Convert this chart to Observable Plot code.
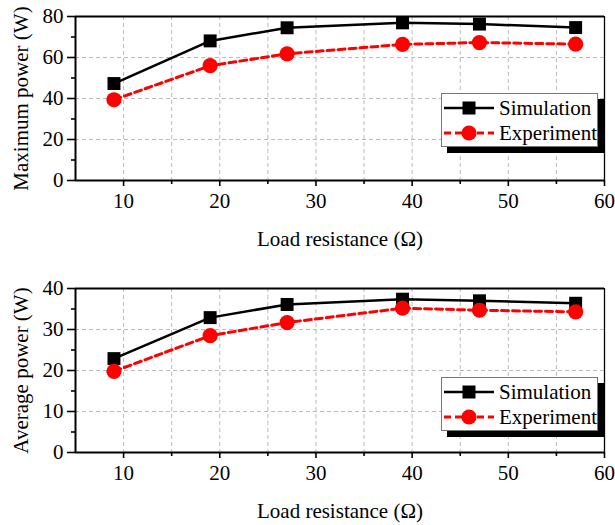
<!DOCTYPE html>
<html><head><meta charset="utf-8">
<script src="https://cdn.jsdelivr.net/npm/d3@7"></script>
<script src="https://cdn.jsdelivr.net/npm/@observablehq/plot@0.6"></script>
<style>
body{margin:0;background:#fff;}
#wrap{width:615px;font-family:"Liberation Serif","Times New Roman",serif;}
.panel{position:relative;width:615px;}
.legend{position:absolute;left:441px;width:155px;height:52px;background:#fff;border:1px solid #777;box-shadow:6px 6px 0 #000;font-size:21px;color:#000;}
.row{position:absolute;left:0;height:24px;display:flex;align-items:center;white-space:nowrap;}
.row svg{display:block;margin-left:2px;margin-right:5px;}
</style>
</head><body>
<div id="wrap"></div>
<script>
const resistance = [9, 19, 27, 39, 47, 57];
const maxSim = [47.3, 68.1, 74.5, 76.9, 76.3, 74.6];
const maxExp = [39.4, 56.0, 61.8, 66.4, 67.3, 66.5];
const avgSim = [22.9, 32.9, 36.1, 37.4, 37.0, 36.4];
const avgExp = [19.8, 28.5, 31.7, 35.2, 34.7, 34.3];
const seriesNames = ["Simulation", "Experiment"];

const xTicks = [10, 20, 30, 40, 50, 60];
const xMinor = [15, 25, 35, 45, 55];
const xGrid = [10, 15, 20, 25, 30, 35, 40, 45, 50, 55];
const maxTicks = [0, 20, 40, 60, 80];
const maxMinor = [10, 30, 50, 70];
const maxGrid = [20, 40, 60];
const avgTicks = [0, 10, 20, 30, 40];
const avgMinor = [5, 15, 25, 35];
const avgGrid = [10, 20, 30];

const FONT = "'Liberation Serif', 'Times New Roman', serif";

function panel(o) {
  const simData = resistance.map((x, i) => ({x, y: o.sim[i]}));
  const expData = resistance.map((x, i) => ({x, y: o.exp[i]}));
  const ytop = o.yTicks[o.yTicks.length - 1];
  const plot = Plot.plot({
    width: 615, height: o.height,
    marginLeft: 75, marginRight: 11, marginTop: o.marginTop, marginBottom: o.marginBottom,
    style: {fontFamily: FONT, fontSize: "21px", color: "#000", background: "transparent"},
    x: {domain: [5, 60]},
    y: {domain: [0, ytop]},
    marks: [
      Plot.gridX({ticks: xGrid, stroke: "#bbbbbb", strokeOpacity: 1, strokeDasharray: "4,3", strokeWidth: 1}),
      Plot.gridY({ticks: o.yGrid, stroke: "#bbbbbb", strokeOpacity: 1, strokeDasharray: "4,3", strokeWidth: 1}),
      Plot.line(simData, {x: "x", y: "y", stroke: "#000", strokeWidth: 2.5}),
      Plot.dot(simData, {x: "x", y: "y", symbol: "square", r: 7.3, fill: "#000", stroke: "none"}),
      Plot.line(expData, {x: "x", y: "y", stroke: "#ff0000", strokeWidth: 3, strokeDasharray: "7,4"}),
      Plot.dot(expData, {x: "x", y: "y", symbol: "circle", r: 7.6, fill: "#ff0000", stroke: "none"}),
      Plot.ruleY([ytop], {stroke: "#000", strokeWidth: 2}),
      Plot.ruleX([60], {stroke: "#000", strokeWidth: 1.3}),
      Plot.ruleX([5], {stroke: "#000", strokeWidth: 2}),
      Plot.ruleY([0], {stroke: "#000", strokeWidth: 2}),
      Plot.axisX({ticks: xTicks, tickSize: 6, tickPadding: 7, strokeWidth: 1.6, label: "Load resistance (\u03A9)", labelAnchor: "center", labelOffset: o.xLabelOffset, labelArrow: "none"}),
      Plot.axisX({ticks: xMinor, tickSize: 4, tickPadding: 0, strokeWidth: 1.6, tickFormat: () => "", label: null}),
      Plot.axisY({ticks: o.yTicks, tickSize: 8, tickPadding: 4, strokeWidth: 1.6, label: o.ylabel, labelAnchor: "center", labelOffset: 62, labelArrow: "none"}),
      Plot.axisY({ticks: o.yMinor, tickSize: 4, tickPadding: 0, strokeWidth: 1.6, tickFormat: () => "", label: null})
    ]
  });
  const div = document.createElement("div");
  div.className = "panel";
  div.appendChild(plot);
  const leg = document.createElement("div");
  leg.className = "legend";
  leg.style.top = o.legendTop + "px";
  leg.innerHTML =
    `<div class="row" style="top:2px"><svg width="50" height="20"><line x1="0" y1="10" x2="50" y2="10" stroke="#000" stroke-width="2.5"/><rect x="18.5" y="3.5" width="13" height="13" fill="#000"/></svg><span>${seriesNames[0]}</span></div>` +
    `<div class="row" style="top:27px"><svg width="50" height="20"><line x1="0" y1="10" x2="50" y2="10" stroke="#ff0000" stroke-width="3" stroke-dasharray="7,4"/><circle cx="25" cy="10" r="7.6" fill="#ff0000"/></svg><span>${seriesNames[1]}</span></div>`;
  div.appendChild(leg);
  return div;
}

const wrap = document.getElementById("wrap");
wrap.appendChild(panel({height: 262, marginTop: 16, marginBottom: 82, yTicks: maxTicks, yMinor: maxMinor, yGrid: maxGrid,
  ylabel: "Maximum power (W)", sim: maxSim, exp: maxExp, xLabelOffset: 65, legendTop: 93}));
wrap.appendChild(panel({height: 263, marginTop: 26, marginBottom: 73, yTicks: avgTicks, yMinor: avgMinor, yGrid: avgGrid,
  ylabel: "Average power (W)", sim: avgSim, exp: avgExp, xLabelOffset: 65, legendTop: 115}));
</script>
</body></html>
